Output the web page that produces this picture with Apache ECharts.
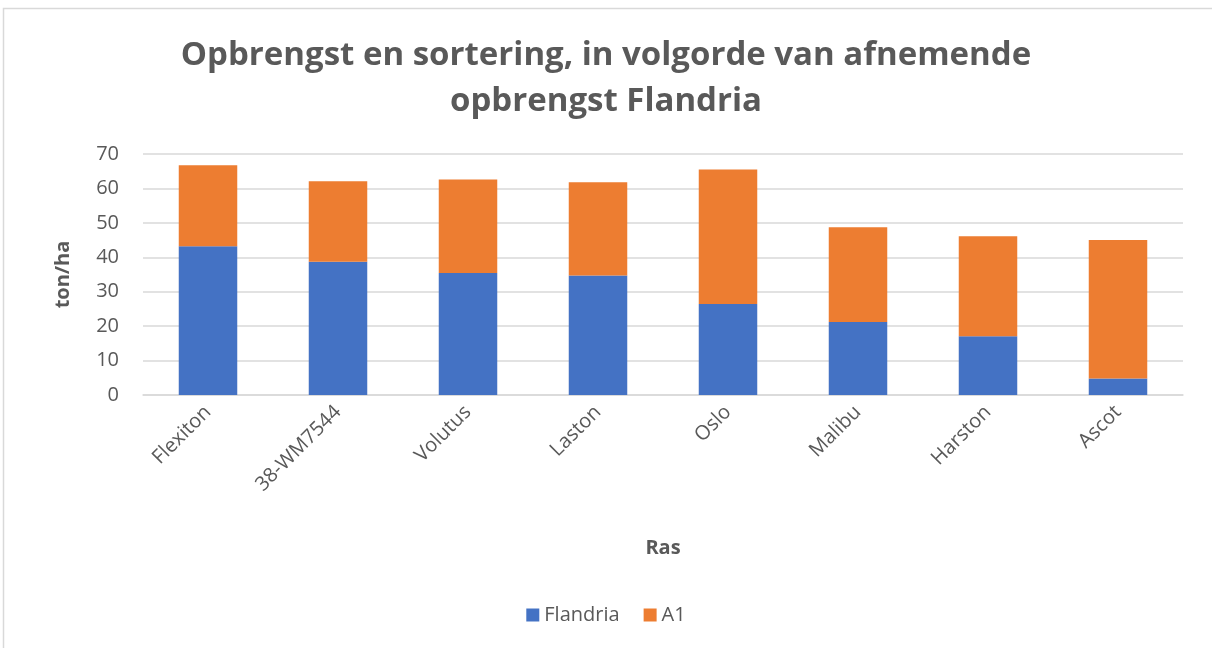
<!DOCTYPE html>
<html><head><meta charset="utf-8">
<script src="https://cdn.jsdelivr.net/npm/echarts@6/dist/echarts.min.js"></script>
<style>html,body{margin:0;padding:0;background:#fff}#c{width:1212px;height:648px}</style>
</head><body><div id="c"></div>
<script>
const categories = ['Flexiton','38-WM7544','Volutus','Laston','Oslo','Malibu','Harston','Ascot'];
const flandria = [43.2, 38.7, 35.4, 34.7, 26.4, 21.2, 17.1, 4.8];
const a1 = [23.5, 23.4, 27.2, 27.1, 39.1, 27.5, 29.0, 40.2];
const yTicks = [0, 10, 20, 30, 40, 50, 60, 70];

const txt = '#595959';
const chart = echarts.init(document.getElementById('c'));
chart.setOption({
  animation: false,
  textStyle: {fontFamily: 'Open Sans'},
  graphic: [{type: 'rect', shape: {x: 3.5, y: 8.5, width: 1220, height: 660}, style: {fill: 'none', stroke: '#d9d9d9', lineWidth: 1.5}, silent: true}],
  title: {
    text: 'Opbrengst en sortering, in volgorde van afnemende\nopbrengst Flandria',
    left: 'center', top: 28,
    textStyle: {fontSize: 33, fontWeight: 'bold', color: txt, lineHeight: 46, fontFamily: 'Open Sans'}
  },
  legend: {
    bottom: 18, left: 'center', itemWidth: 13, itemHeight: 13, itemGap: 24,
    icon: 'rect',
    textStyle: {fontSize: 20, color: txt},
    data: ['Flandria', 'A1']
  },
  grid: {left: 143, right: 29, top: 154, bottom: 253, containLabel: false},
  xAxis: {
    type: 'category', data: categories,
    name: 'Ras', nameLocation: 'middle', nameGap: 143,
    nameTextStyle: {fontSize: 20, fontWeight: 'bold', color: txt},
    axisLine: {lineStyle: {color: '#d9d9d9', width: 1.5}},
    axisTick: {show: false},
    axisLabel: {rotate: 45, fontSize: 20, color: txt, margin: 14}
  },
  yAxis: {
    type: 'value', min: 0, max: 70, interval: 10,
    name: 'ton/ha', nameLocation: 'middle', nameGap: 70, nameRotate: 90,
    nameTextStyle: {fontSize: 20, fontWeight: 'bold', color: txt},
    axisLine: {show: false}, axisTick: {show: false},
    axisLabel: {fontSize: 20, color: txt, margin: 24, formatter: v => yTicks.includes(v) ? String(v) : ''},
    splitLine: {lineStyle: {color: '#d9d9d9', width: 1.5}}
  },
  series: [
    {name: 'Flandria', type: 'bar', stack: 't', data: flandria, barWidth: '45%', itemStyle: {color: '#4472C4'}},
    {name: 'A1', type: 'bar', stack: 't', data: a1, barWidth: '45%', itemStyle: {color: '#ED7D31'}}
  ]
});
</script></body></html>
